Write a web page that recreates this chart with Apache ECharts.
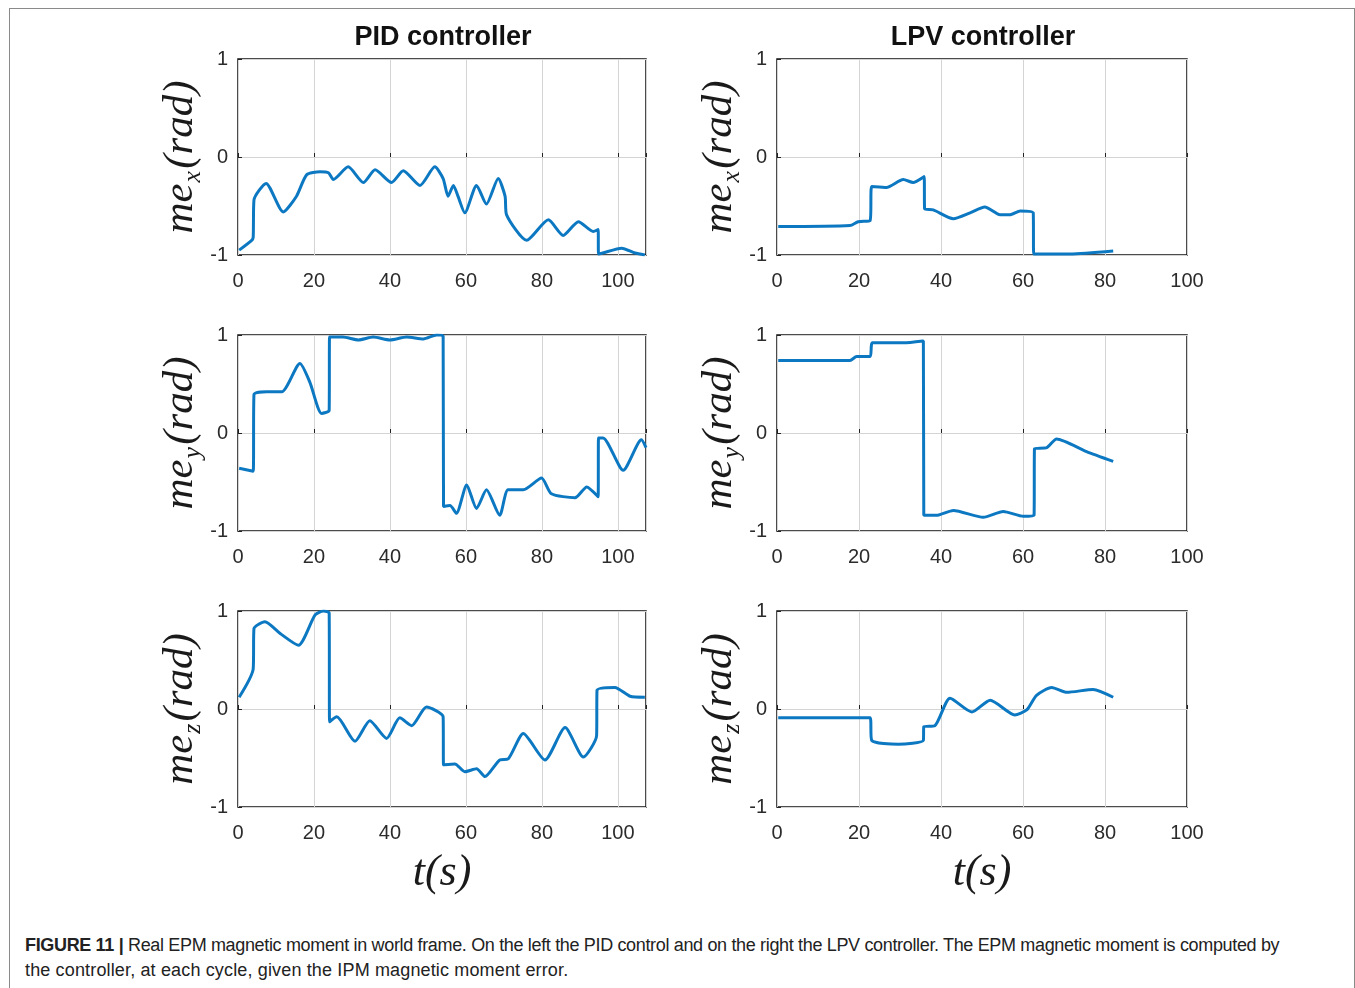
<!DOCTYPE html>
<html>
<head>
<meta charset="utf-8">
<script src="https://cdn.jsdelivr.net/npm/echarts@6/dist/echarts.min.js"></script>
<style>
  html, body { margin: 0; padding: 0; background: #fff; }
  #frame { position: absolute; left: 9px; top: 8px; width: 1346px; height: 1000px; border: 1px solid #8a8a8a; box-sizing: border-box; }
  #chart { position: absolute; left: 0; top: 0; width: 1355px; height: 900px; }
  .cap { position: absolute; left: 25px; font-family: 'Liberation Sans', Arial, sans-serif; font-size: 18px; color: #222; white-space: nowrap; }
  .cap b { font-weight: bold; }
</style>
</head>
<body>
<div id="frame"></div>
<div id="chart"></div>
<div class="cap" style="top:935px; letter-spacing:-0.34px"><b>FIGURE 11 |</b> Real EPM magnetic moment in world frame. On the left the PID control and on the right the LPV controller. The EPM magnetic moment is computed by</div>
<div class="cap" style="top:960px; letter-spacing:0.15px">the controller, at each cycle, given the IPM magnetic moment error.</div>
<script>
// 数据：时间(s)和磁矩(rad)
const pidMexT = [0.3, 3.6, 4.0, 4.2, 7.4, 11.9, 15.4, 18.1, 21.6, 23.8, 25.1, 29.0, 33.0, 36.1, 40.4, 43.5, 47.9, 51.8, 54.0, 55.3, 56.7, 57.9, 59.7, 62.8, 65.4, 68.5, 70.3, 70.7, 76.0, 81.7, 85.6, 89.6, 93.5, 94.8, 94.9, 96.0, 101.0, 104.5, 107.1]
const pidMexV = [-0.95, -0.85, -0.82, -0.44, -0.27, -0.56, -0.40, -0.18, -0.15, -0.16, -0.23, -0.10, -0.26, -0.13, -0.26, -0.14, -0.29, -0.10, -0.22, -0.40, -0.29, -0.40, -0.57, -0.29, -0.48, -0.22, -0.40, -0.59, -0.85, -0.64, -0.80, -0.66, -0.76, -0.74, -0.99, -0.98, -0.93, -0.98, -1.0]

const lpvMexT = [0.3, 17.8, 19.8, 22.7, 23.1, 26.7, 30.8, 33.2, 35.9, 36.0, 38.1, 43.0, 47.1, 50.7, 54.4, 56.8, 59.3, 62.5, 62.6, 71.5, 82.0]
const lpvMexV = [-0.71, -0.70, -0.66, -0.65, -0.30, -0.31, -0.23, -0.26, -0.20, -0.53, -0.54, -0.63, -0.57, -0.51, -0.59, -0.59, -0.55, -0.57, -0.99, -0.99, -0.96]

const pidMeyT = [0.3, 4.0, 4.2, 7.5, 11.5, 16.3, 18.9, 22.0, 24.0, 24.1, 27.6, 31.7, 35.6, 40.0, 44.4, 48.8, 52.3, 54.0, 54.1, 55.8, 57.5, 60.2, 62.8, 65.4, 68.9, 71.1, 75.1, 79.9, 82.5, 88.7, 91.8, 94.8, 94.9, 96.1, 101.4, 106.2, 107.4]
const pidMeyV = [-0.36, -0.39, 0.39, 0.42, 0.42, 0.71, 0.52, 0.20, 0.23, 0.98, 0.98, 0.95, 0.98, 0.95, 0.98, 0.96, 1.0, 0.99, -0.75, -0.74, -0.82, -0.53, -0.77, -0.58, -0.84, -0.58, -0.58, -0.46, -0.62, -0.66, -0.55, -0.65, -0.05, -0.05, -0.38, -0.07, -0.15]

const lpvMeyT = [0.3, 17.8, 19.4, 22.7, 23.3, 30.8, 35.7, 35.8, 38.9, 43.0, 50.3, 55.2, 60.1, 62.7, 62.8, 65.8, 68.2, 75.5, 82.0]
const lpvMeyV = [0.74, 0.74, 0.78, 0.78, 0.92, 0.92, 0.94, -0.84, -0.84, -0.79, -0.86, -0.80, -0.85, -0.84, -0.16, -0.15, -0.06, -0.19, -0.29]

const pidMezT = [0.3, 4.0, 4.2, 7.1, 11.1, 15.9, 20.3, 22.5, 24.0, 24.1, 26.0, 30.8, 34.7, 39.1, 42.6, 45.7, 49.6, 54.0, 54.1, 57.1, 59.7, 62.8, 65.0, 68.9, 71.1, 75.1, 80.8, 86.1, 90.9, 94.4, 94.5, 99.2, 103.2, 107.1]
const pidMezV = [0.12, 0.41, 0.82, 0.89, 0.77, 0.65, 0.96, 1.0, 0.98, -0.13, -0.08, -0.33, -0.12, -0.30, -0.09, -0.17, 0.02, -0.08, -0.57, -0.56, -0.64, -0.61, -0.69, -0.52, -0.51, -0.25, -0.52, -0.19, -0.49, -0.27, 0.19, 0.22, 0.13, 0.12]

const lpvMezT = [0.3, 22.7, 23.1, 29.6, 35.7, 35.8, 38.5, 42.2, 47.5, 52.0, 58.0, 60.9, 63.3, 67.0, 70.7, 77.1, 82.0]
const lpvMezV = [-0.09, -0.09, -0.32, -0.36, -0.32, -0.18, -0.17, 0.11, -0.03, 0.09, -0.06, -0.01, 0.14, 0.22, 0.17, 0.20, 0.12]

const xTicksMax = [107.4, 100]   // 左列 / 右列 x 轴范围
const columnTitles = ['PID controller', 'LPV controller']
const yNames = ['x', 'y', 'z']

const panels = [
    { t: pidMexT, v: pidMexV, col: 0, row: 0 },
    { t: lpvMexT, v: lpvMexV, col: 1, row: 0 },
    { t: pidMeyT, v: pidMeyV, col: 0, row: 1 },
    { t: lpvMeyT, v: lpvMeyV, col: 1, row: 1 },
    { t: pidMezT, v: pidMezV, col: 0, row: 2 },
    { t: lpvMezT, v: lpvMezV, col: 1, row: 2 }
]

const chart = echarts.init(document.getElementById('chart'))

const colLeft = [238, 777]
const colWidth = [408, 410]
const rowTop = [59, 335, 611]
const rowHeight = 196

const labelFont = { fontFamily: 'Liberation Sans', fontSize: 20, color: '#2b2b2b' }
const mathFont = { fontFamily: 'Liberation Serif', fontStyle: 'italic', color: '#1a1a1a' }

const grids = [], xAxes = [], yAxes = [], series = []
panels.forEach((p, i) => {
    grids.push({
        left: colLeft[p.col], top: rowTop[p.row], width: colWidth[p.col], height: rowHeight,
        show: true, borderColor: '#111', borderWidth: 1.5, backgroundColor: '#fff'
    })
    xAxes.push({
        type: 'value', gridIndex: i, min: 0, max: xTicksMax[p.col], interval: 20,
        axisLine: { show: false },
        axisTick: { show: true, inside: true, length: 4, lineStyle: { color: '#222' } },
        axisLabel: Object.assign({ margin: 16, formatter: v => (v % 20 === 0 ? v : '') }, labelFont),
        splitLine: { show: true, lineStyle: { color: '#d4d4d4', width: 1 } },
        name: p.row === 2 ? 't(s)' : '',
        nameLocation: 'middle', nameGap: 44,
        nameTextStyle: Object.assign({ fontSize: 44 }, mathFont)
    })
    yAxes.push({
        type: 'value', gridIndex: i, min: -1, max: 1, interval: 1,
        axisLine: { show: false },
        axisTick: { show: true, inside: true, length: 4, lineStyle: { color: '#222' } },
        axisLabel: Object.assign({ margin: 10 }, labelFont),
        splitLine: { show: true, lineStyle: { color: '#d4d4d4', width: 1 } },
        name: '{m|me}{s|' + yNames[p.row] + '}{m|(rad)}',
        nameLocation: 'middle', nameGap: 32, nameRotate: 90,
        nameTextStyle: {
            rich: {
                m: Object.assign({ fontSize: 43 }, mathFont),
                s: Object.assign({ fontSize: 26, padding: [24, 2, 0, 1] }, mathFont)
            }
        }
    })
    series.push({
        type: 'line', xAxisIndex: i, yAxisIndex: i,
        data: p.t.map((t, k) => [t, p.v[k]]),
        showSymbol: false, smooth: 0.22,
        lineStyle: { color: '#0d78c2', width: 3 },
        animation: false
    })
})

const option = {
    animation: false,
    grid: grids,
    xAxis: xAxes,
    yAxis: yAxes,
    graphic: columnTitles.map((txt, c) => ({
        type: 'text',
        x: colLeft[c] + colWidth[c] / 2 + 1, y: 38,
        style: { text: txt, fontFamily: 'Liberation Sans', fontWeight: 'bold', fontSize: 27, fill: '#111', textAlign: 'center', textVerticalAlign: 'middle' }
    })),
    series: series
}

chart.setOption(option)
</script>
</body>
</html>
